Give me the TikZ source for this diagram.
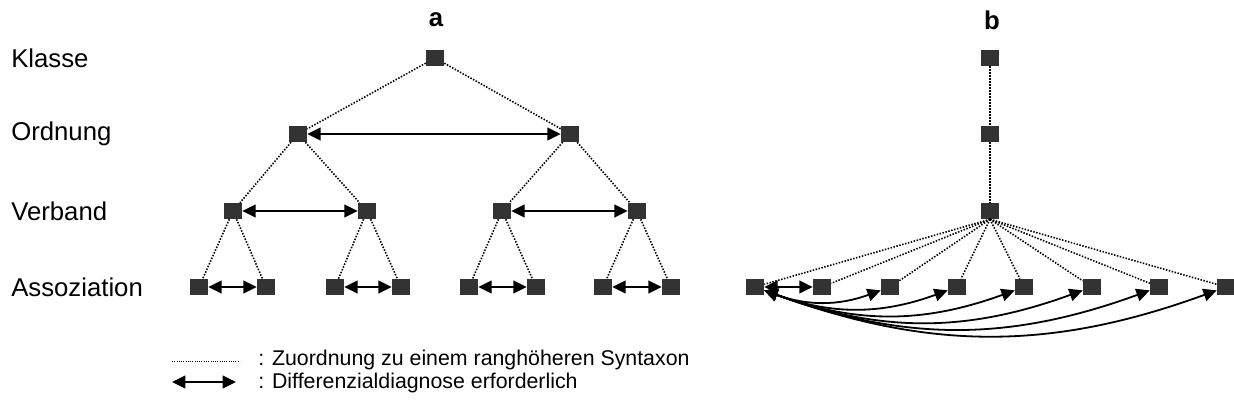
\documentclass[tikz,border=0pt]{standalone}
\usepackage{fontspec}
\setmainfont{Liberation Sans}
\usetikzlibrary{arrows.meta}
\definecolor{boxgray}{HTML}{333333}
\tikzset{
  taxon/.style={rectangle, fill=boxgray, draw=none, inner sep=0pt,
    minimum width=13.5pt, minimum height=12pt},
  rankline/.style={line width=1.2pt, dash pattern=on 1.1pt off 1.15pt},
  diff/.style={line width=1.35pt, {Triangle[length=10pt,width=9.5pt]}-{Triangle[length=10pt,width=9.5pt]}},
  rank/.style={anchor=west, inner sep=0pt, font=\fontsize{19.3}{23}\selectfont},
  panel/.style={inner sep=0pt, font=\fontsize{19.3}{23}\selectfont\bfseries},
  legendtext/.style={anchor=west, inner sep=0pt, font=\fontsize{16}{19}\selectfont}
}
\begin{document}
\begin{tikzpicture}[x=0.75pt, y=-0.75pt]
\useasboundingbox (0,0) rectangle (1234,414);

% rank labels
\node[rank] (lk) at (11,58)  {Klasse};
\node[rank] (lo) at (11,134) {Ordnung};
\node[rank] (lv) at (11,211) {Verband};
\node[rank] (la) at (11,287) {Assoziation};
\node[panel] (pa) at (436,20) {a};
\node[panel] (pb) at (992,20) {b};

% panel a: balanced hierarchy
\node[taxon] (aK)  at (435,58)  {};
\node[taxon] (aO1) at (298,134) {};
\node[taxon] (aO2) at (570,134) {};
\node[taxon] (aV1) at (233,211) {};
\node[taxon] (aV2) at (367,211) {};
\node[taxon] (aV3) at (502,211) {};
\node[taxon] (aV4) at (637,211) {};
\foreach \i/\x in {1/199,2/266,3/335,4/401,5/469,6/536,7/603,8/671}
  \node[taxon] (aA\i) at (\x,287) {};

\draw[rankline] (aK) -- (aO1);
\draw[rankline] (aK) -- (aO2);
\draw[rankline] (aO1) -- (aV1);
\draw[rankline] (aO1) -- (aV2);
\draw[rankline] (aO2) -- (aV3);
\draw[rankline] (aO2) -- (aV4);
\draw[rankline] (aV1) -- (aA1);
\draw[rankline] (aV1) -- (aA2);
\draw[rankline] (aV2) -- (aA3);
\draw[rankline] (aV2) -- (aA4);
\draw[rankline] (aV3) -- (aA5);
\draw[rankline] (aV3) -- (aA6);
\draw[rankline] (aV4) -- (aA7);
\draw[rankline] (aV4) -- (aA8);

\draw[diff] (aO1) -- (aO2);
\draw[diff] (aV1) -- (aV2);
\draw[diff] (aV3) -- (aV4);
\draw[diff] (aA1) -- (aA2);
\draw[diff] (aA3) -- (aA4);
\draw[diff] (aA5) -- (aA6);
\draw[diff] (aA7) -- (aA8);

% panel b: single chain with a flat set of associations
\node[taxon] (bK) at (990,58)  {};
\node[taxon] (bO) at (990,134) {};
\node[taxon] (bV) at (990,211) {};
\foreach \i/\x in {1/755,2/822,3/890,4/957,5/1024,6/1092,7/1159,8/1226}
  \node[taxon] (bA\i) at (\x,287) {};

\draw[rankline] (bK) -- (bO);
\draw[rankline] (bO) -- (bV);
\foreach \i in {1,...,8}
  \draw[rankline] (bV.south) -- (bA\i);

\draw[diff] (bA1) -- (bA2);
\foreach \i in {3,...,8}
  \draw[diff] (bA1) to[bend right=20] (bA\i);

% legend
\coordinate (d1) at (172,361);
\coordinate (d2) at (240,361);
\coordinate (e1) at (172,382);
\coordinate (e2) at (236,382);
\draw[line width=0.6pt, dash pattern=on 0.6pt off 1.1pt] (d1) -- (d2);
\draw[diff] (e1) -- (e2);
\node[legendtext] (t1) at (258,360) {: Zuordnung zu einem ranghöheren Syntaxon};
\node[legendtext] (t2) at (258,383) {: Differenzialdiagnose erforderlich};
\end{tikzpicture}
\end{document}
